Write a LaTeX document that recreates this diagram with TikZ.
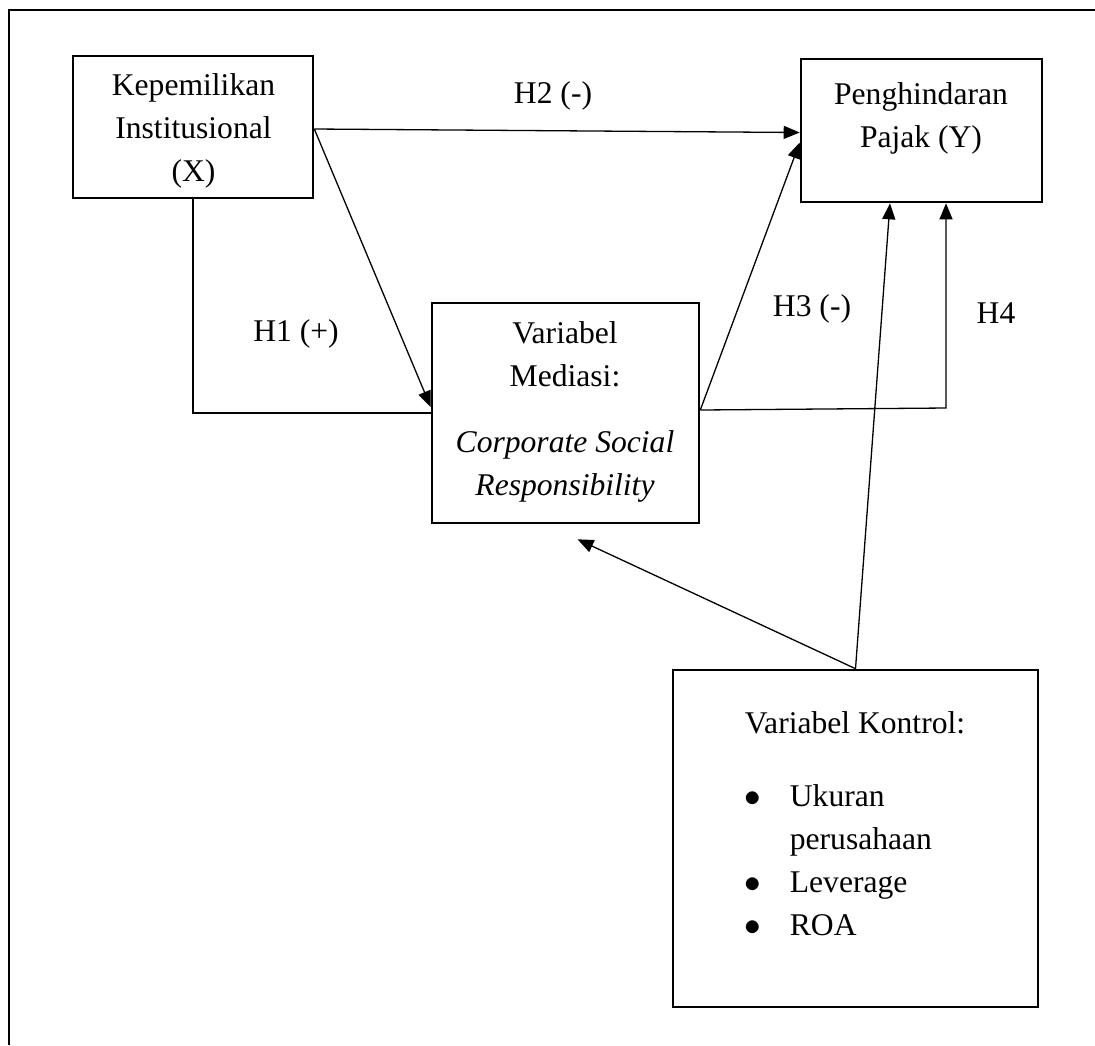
\documentclass[tikz,border=0pt]{standalone}
\usepackage{fontspec}
\setmainfont{Liberation Serif}
\usetikzlibrary{calc, arrows.meta}

\begin{document}
\begin{tikzpicture}[x=0.5pt, y=-0.5pt,
        box/.style={draw, line width=1.3pt, inner sep=0pt},
        txt/.style={font=\fontsize{15.8}{21.5}\selectfont, inner sep=0pt},
        arr/.style={line width=0.65pt, arrows={-Triangle[length=8pt, width=6.5pt]}}]
        \useasboundingbox (0, 0) rectangle (1095, 1045);
        \draw [line width=1pt] (9, 1045) -- (9, 9.5) -- (1095, 9.5);
        \node [box, minimum width=120pt, minimum height=71pt] (inst) at (193, 127) {};
        \node [box, minimum width=120.5pt, minimum height=71.5pt] (pajak) at (921.5, 130.5) {};
        \node [box, minimum width=133.5pt, minimum height=110pt] (med) at (565.5, 413) {};
        \node [box, minimum width=182.5pt, minimum height=168.5pt] (kontrol) at (855.5, 838.5) {};
        \node [txt, align=center] (insttext) at (193.5, 131) {Kepemilikan\\Institusional\\(X)};
        \node [txt, align=center] (pajaktext) at (921, 118) {Penghindaran\\Pajak (Y)};
        \node [txt, align=center] (medtext) at (565, 412)
            {Variabel\\Mediasi:\\[11.5pt]\textit{Corporate Social}\\\textit{Responsibility}};
        \node [txt, align=left] (kontroltext) at (855, 824)
            {Variabel Kontrol:\\[15pt]
            \makebox[22.5pt][l]{\scalebox{1.15}{$\bullet$}}Ukuran\\
            \hspace*{22.5pt}perusahaan\\
            \makebox[22.5pt][l]{\scalebox{1.15}{$\bullet$}}Leverage\\
            \makebox[22.5pt][l]{\scalebox{1.15}{$\bullet$}}ROA};
        \node [txt] (h1) at (296, 334) {H1 (+)};
        \node [txt] (h2) at (553, 96) {H2 (-)};
        \node [txt] (h3) at (812, 309) {H3 (-)};
        \node [txt] (h4) at (996, 313) {H4};
        \coordinate (instout) at ($(inst.east)+(0, 2)$);
        \coordinate (medout) at ($(med.east)+(0, -3)$);
        \coordinate (h4bend) at (946, 408);
        \draw [arr] (instout) -- ($(pajak.west)+(0, 2)$);
        \draw [arr] (instout) -- ($(med.west)+(0, -6)$);
        \draw [line width=0.65pt] (inst.south) |- (med.west);
        \draw [arr] (medout) -- ($(pajak.west)+(0, 12)$);
        \draw [arr] (medout) -- (h4bend) -- (h4bend |- pajak.south);
        \draw [arr] (kontrol.north) -- (890, 0 |- pajak.south);
        \draw [arr] (kontrol.north) -- ($(med.south)+(12, 15)$);
    \end{tikzpicture}
\end{document}
